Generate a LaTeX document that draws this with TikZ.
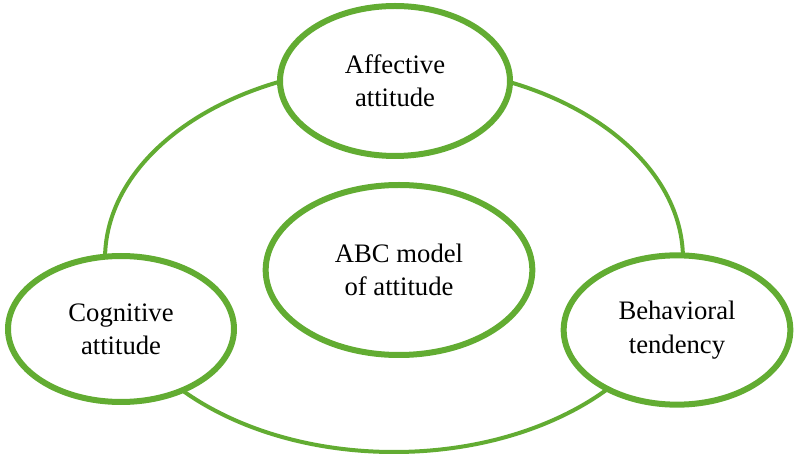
\documentclass[tikz,border=0pt]{standalone}
\usepackage{fontspec}
\setmainfont{Liberation Serif}
\usetikzlibrary{shapes.geometric}
\definecolor{ringgreen}{RGB}{98,172,50}
\tikzset{
  bubble/.style={ellipse, draw=ringgreen, line width=4.5pt, fill=white, inner sep=0pt,
    align=center, font=\fontsize{20}{25}\selectfont, text=black},
  ring/.style={ellipse, draw=ringgreen, line width=3pt, inner sep=0pt}
}
\begin{document}
\begin{tikzpicture}[x=0.75pt,y=-0.75pt]
\useasboundingbox (0,0) rectangle (800,459);
\node[ring, minimum width=433.5pt, minimum height=289.5pt] (big) at (394,259) {};
\node[bubble, minimum width=172.5pt, minimum height=112.5pt] (aff) at (395,81) {Affective\\attitude};
\node[bubble, minimum width=169.5pt, minimum height=109.5pt] (cog) at (121,329) {Cognitive\\attitude};
\node[bubble, minimum width=170pt, minimum height=112pt] (beh) at (677,330) {Behavioral\\tendency};
\node[bubble, minimum width=200pt, minimum height=127.5pt] (abc) at (399,270) {ABC model\\of attitude};
\end{tikzpicture}
\end{document}
